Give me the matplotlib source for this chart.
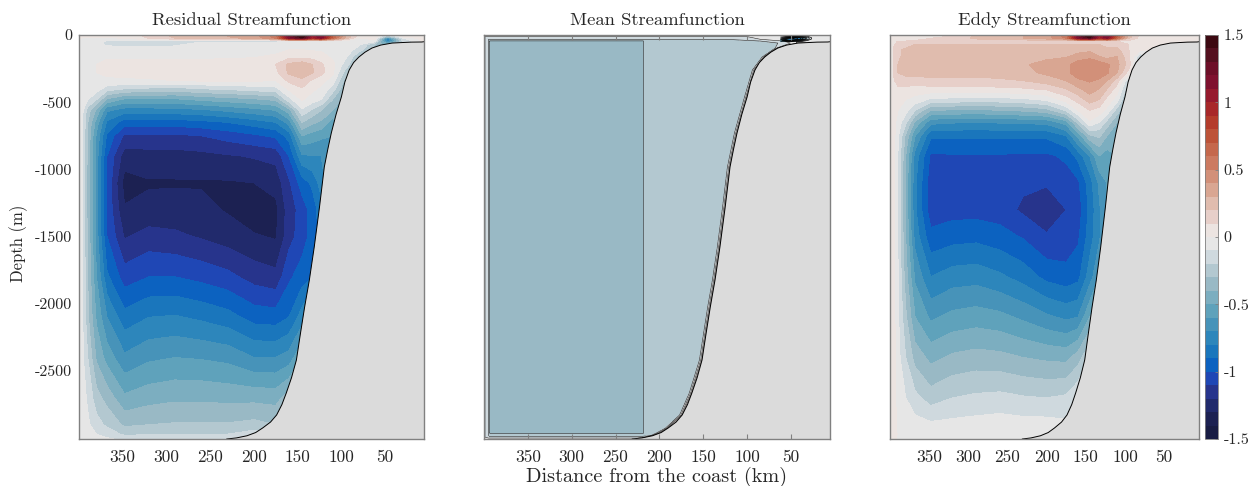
import matplotlib
matplotlib.use('Agg')
import matplotlib.pyplot as plt
import numpy as np

# Streamfunction panels, values
plt.rcParams['font.family'] = 'cmr10'
plt.rcParams['axes.unicode_minus'] = False
plt.rcParams['axes.formatter.use_mathtext'] = True
W, H = 1252, 486
AXIS_GRAY = '#808080'
LAND = '#dbdbdb'
TEXT = '#262626'

BAND_COLORS = ['#181c43', '#1c2152', '#212a6c', '#27348c', '#1f47b5', '#0c62c0', '#1a76bc', '#2d86bb',
               '#4793b9', '#5fa2bb', '#7caec0', '#99b9c5', '#b3c8d0', '#cfd9de', '#e6e6e6',
               '#ece4e1', '#e7cfc9', '#e0bcae', '#d9a692', '#d29079', '#cc7a60', '#c5684c', '#bd5338',
               '#b43c2b', '#a82829', '#961a2d', '#7f112f', '#6d0f28', '#54101f', '#3c0911']
LEVELS = np.linspace(-1.5, 1.5, 31)
X_TICKS = [350, 300, 250, 200, 150, 100, 50]
Y_TICKS = [0, -500, -1000, -1500, -2000, -2500]
CBAR_TICKS = [-1.5, -1, -0.5, 0, 0.5, 1, 1.5]
CBAR_LABELS = ['-1.5', '-1', '-0.5', '0', '0.5', '1', '1.5']

# bathymetry (distance km, depth m)
shelf_d = [5.5, 8, 20, 30, 42, 55, 65, 73, 80, 86, 91, 96, 100, 106, 111.5, 115.5, 119.5, 125, 131, 136.6, 142,
           147, 151.4, 157, 163, 168, 174, 181, 190, 198, 208, 220, 231]
shelf_z = [-50, -52, -53, -56, -60, -75, -97, -128, -164, -205, -260, -350, -461, -590, -729, -850, -982, -1280,
           -1577, -1823, -2024, -2230, -2418, -2550, -2664, -2750, -2827, -2880, -2924, -2958, -2982, -2998, -3006]

dist = [400, 396, 390, 380, 368, 348, 320, 290, 260, 230, 200, 175, 160, 145, 133, 123, 110, 95, 80, 62, 47, 30, 5.5]
depth = [0, -12, -25, -45, -70, -110, -160, -220, -280, -340, -400, -480, -560, -650, -750, -900, -1100, -1300,
         -1500, -1800, -2100, -2400, -2700, -2900, -2970, -3010]

residual = [
    [.02, .02, .02, .03, .03, .04, .12, .22, .28, .3, .35, .55, 1.1, 1.45, .9, 1.2, .7, .3, .05, .06, -.15, .05, .05],
    [.02, .02, .02, .03, .03, .04, .12, .22, .28, .3, .35, .55, 1.2, 1.5, 1.0, 1.2, .7, .3, .05, .1, -.35, .02, .05],
    [0, -.01, -.02, -.02, -.03, 0, .1, .2, .25, .28, .32, .5, 1.1, 1.3, .9, 1.1, .6, .25, -.02, .05, -.75, -.12, .05],
    [-.02, -.05, -.05, -.06, -.11, -.12, -.12, -.12, -.12, -.12, -.12, -.12, -.03, -.04, -.03, -.02, -.03, -.04, -.06, -.05, -.8, -.2, .03],
    [-.02, -.03, -.04, -.08, -.12, -.13, -.13, -.12, -.06, -.06, -.06, -.08, -.02, -.01, -.01, -.01, -.01, -.03, -.08, -.3, -.5, -.2, .03],
    [-.02, -.02, -.03, -.03, -.04, -.06, -.06, -.05, -.04, -.04, -.04, -.04, 0, 0, -.01, -.01, -.02, -.04, -.15, -.35, -.5, -.2, .03],
    [-.02, -.02, -.02, -.01, -.01, -.02, -.02, -.02, -.02, -.02, -.01, .02, .07, .06, .05, .03, -.02, -.08, -.3, -.35, -.5, -.2, .03],
    [-.02, -.02, -.01, 0, .02, .03, .03, .03, .04, .05, .06, .1, .22, .27, .2, .12, .03, -.15, -.35, -.35, -.5, -.2, .03],
    [-.02, -.02, -.01, 0, .01, .03, .03, .03, .04, .05, .06, .07, .22, .28, .21, .13, .02, -.25, -.35, -.35, -.5, -.2, .03],
    [-.02, -.02, -.02, -.02, -.01, -.02, -.01, 0, .01, .01, .01, 0, .12, .17, .08, .03, -.04, -.35, -.35, -.35, -.5, -.2, .03],
    [-.02, -.03, -.04, -.05, -.15, -.2, -.22, -.24, -.2, -.18, -.15, -.13, .02, .09, .02, -.02, -.15, -.4, -.4, -.35, -.5, -.2, .03],
    [-.02, -.05, -.1, -.2, -.42, -.52, -.52, -.52, -.48, -.45, -.42, -.38, -.14, .01, -.05, -.1, -.3, -.45, -.4, -.35, -.5, -.2, .03],
    [-.02, -.08, -.25, -.42, -.68, -.75, -.75, -.74, -.72, -.68, -.64, -.6, -.44, -.12, -.22, -.3, -.4, -.45, -.4, -.35, -.5, -.2, .03],
    [-.02, -.1, -.3, -.55, -.82, -.95, -.95, -.95, -.93, -.9, -.85, -.8, -.66, -.3, -.38, -.42, -.55, -.45, -.4, -.35, -.5, -.2, .03],
    [-.03, -.1, -.32, -.62, -.92, -1.12, -1.12, -1.12, -1.1, -1.06, -1.02, -.98, -.86, -.5, -.55, -.58, -.6, -.45, -.4, -.35, -.5, -.2, .03],
    [-.03, -.1, -.33, -.65, -1.0, -1.25, -1.24, -1.24, -1.23, -1.21, -1.19, -1.17, -1.0, -.72, -.7, -.7, -.6, -.45, -.4, -.35, -.5, -.2, .03],
    [-.03, -.1, -.34, -.65, -1.02, -1.34, -1.31, -1.31, -1.31, -1.31, -1.3, -1.26, -1.12, -.95, -.88, -.75, -.6, -.45, -.4, -.35, -.5, -.2, .03],
    [-.03, -.1, -.34, -.65, -1.02, -1.29, -1.27, -1.26, -1.27, -1.31, -1.36, -1.33, -1.15, -1.06, -.95, -.85, -.6, -.45, -.4, -.35, -.5, -.2, .03],
    [-.03, -.1, -.32, -.65, -1.0, -1.21, -1.16, -1.18, -1.21, -1.25, -1.29, -1.31, -1.14, -1.05, -.96, -.85, -.6, -.45, -.4, -.35, -.5, -.2, .03],
    [-.03, -.1, -.3, -.6, -.88, -1.05, -1.0, -1.0, -1.03, -1.07, -1.14, -1.17, -1.02, -.95, -.9, -.8, -.6, -.45, -.4, -.35, -.5, -.2, .03],
    [-.02, -.09, -.28, -.52, -.7, -.86, -.8, -.79, -.82, -.86, -.94, -.95, -.9, -.75, -.6, -.6, -.6, -.45, -.4, -.35, -.5, -.2, .03],
    [-.02, -.08, -.2, -.42, -.54, -.68, -.62, -.6, -.61, -.63, -.7, -.7, -.66, -.5, -.4, -.4, -.4, -.4, -.4, -.35, -.5, -.2, .03],
    [-.02, -.05, -.12, -.26, -.34, -.48, -.44, -.42, -.42, -.43, -.43, -.44, -.35, -.3, -.2, -.2, -.2, -.2, -.2, -.2, -.2, -.2, .03],
    [-.02, -.04, -.08, -.16, -.22, -.32, -.3, -.29, -.29, -.29, -.27, -.3, -.2, -.1, -.05, -.05, -.05, -.05, -.05, -.05, -.05, -.05, .03],
    [-.01, -.02, -.05, -.1, -.14, -.22, -.21, -.2, -.2, -.2, -.15, -.1, -.1, -.05, -.05, -.05, -.05, -.05, -.05, -.05, -.05, -.05, .03],
    [-.01, -.01, -.03, -.06, -.08, -.12, -.12, -.1, -.1, -.1, -.05, -.05, -.05, -.05, -.05, -.05, -.05, -.05, -.05, -.05, -.05, -.05, .03],
]

eddy = [
    [.02, .03, .03, .03, .03, .03, .12, .22, .28, .3, .35, .55, 1.1, 1.45, .9, 1.2, .7, .25, .05, .1, .05, .05, .05],
    [.02, .04, .04, .04, .04, .05, .12, .22, .28, .3, .35, .55, 1.2, 1.5, 1.0, 1.2, .7, .25, .06, .08, .05, .05, .05],
    [.02, .05, .06, .06, .06, .1, .14, .22, .28, .3, .35, .5, 1.1, 1.3, .9, 1.1, .6, .2, .05, .05, .05, .05, .05],
    [.03, .07, .1, .1, .11, .12, .12, .13, .13, .13, .14, .16, .15, .14, .13, .13, .1, .08, .05, .05, .05, .05, .05],
    [.03, .09, .12, .15, .2, .2, .2, .2, .2, .2, .2, .2, .2, .2, .2, .17, .14, .1, .05, .04, .05, .05, .05],
    [.04, .1, .18, .22, .23, .24, .24, .24, .24, .25, .26, .27, .27, .27, .25, .22, .23, .1, .02, 0, .05, .05, .05],
    [.04, .1, .18, .23, .24, .25, .25, .25, .25, .27, .28, .29, .33, .37, .3, .26, .3, .12, -.2, 0, .05, .05, .05],
    [.04, .1, .2, .24, .25, .26, .26, .26, .27, .29, .33, .37, .46, .48, .46, .42, .33, .15, -.3, 0, .05, .05, .05],
    [.04, .1, .2, .23, .24, .24, .24, .24, .25, .27, .32, .37, .46, .48, .46, .42, .3, .05, -.3, 0, .05, .05, .05],
    [.04, .08, .14, .16, .16, .17, .17, .17, .18, .2, .25, .3, .38, .41, .38, .3, .15, -.2, -.3, 0, .05, .05, .05],
    [.04, .07, .08, .08, .05, .07, .07, .07, .08, .09, .12, .2, .28, .35, .3, .2, .05, -.3, -.3, 0, .05, .05, .05],
    [.04, .06, .03, 0, -.03, -.12, -.13, -.15, -.14, -.12, -.08, .05, .14, .25, .2, .07, -.05, -.4, -.3, 0, .05, .05, .05],
    [.04, .05, 0, -.06, -.2, -.4, -.41, -.42, -.4, -.38, -.34, -.18, 0, .1, .06, -.03, -.25, -.45, -.3, 0, .05, .05, .05],
    [.04, .05, -.04, -.18, -.42, -.67, -.69, -.7, -.69, -.68, -.67, -.55, -.27, -.02, -.1, -.24, -.4, -.45, -.3, 0, .05, .05, .05],
    [.04, .05, -.08, -.32, -.6, -.88, -.88, -.88, -.88, -.88, -.88, -.8, -.57, -.32, -.28, -.4, -.45, -.45, -.3, 0, .05, .05, .05],
    [.04, .05, -.1, -.4, -.74, -1.02, -1.01, -1.01, -1.01, -1.02, -1.02, -.98, -.87, -.7, -.5, -.55, -.5, -.45, -.3, 0, .05, .05, .05],
    [.04, .05, -.1, -.42, -.78, -1.06, -1.05, -1.06, -1.06, -1.08, -1.09, -1.05, -1.02, -.85, -.68, -.6, -.5, -.45, -.3, 0, .05, .05, .05],
    [.04, .05, -.1, -.42, -.78, -1.06, -1.04, -1.04, -1.05, -1.12, -1.16, -1.1, -1.06, -.87, -.72, -.6, -.5, -.45, -.3, 0, .05, .05, .05],
    [.04, .05, -.1, -.4, -.74, -.97, -.94, -.93, -.96, -1.01, -1.09, -1.07, -1.02, -.85, -.72, -.6, -.5, -.45, -.3, 0, .05, .05, .05],
    [.04, .05, -.09, -.35, -.62, -.8, -.75, -.74, -.78, -.84, -.93, -.96, -.93, -.75, -.6, -.5, -.5, -.45, -.3, 0, .05, .05, .05],
    [.04, .05, -.08, -.28, -.5, -.62, -.57, -.55, -.57, -.62, -.68, -.72, -.7, -.5, -.4, -.4, -.4, -.4, -.3, 0, .05, .05, .05],
    [.04, .05, -.06, -.2, -.34, -.43, -.38, -.36, -.37, -.4, -.42, -.43, -.35, -.2, -.2, -.2, -.2, -.2, -.2, 0, .05, .05, .05],
    [.04, .05, -.04, -.1, -.17, -.25, -.2, -.18, -.17, -.19, -.2, -.18, -.1, -.1, -.1, -.1, -.1, -.1, -.1, 0, .05, .05, .05],
    [.05, .05, -.02, -.04, -.06, -.08, -.07, -.06, -.05, -.06, -.06, -.08, -.05, -.05, -.05, -.05, -.05, -.05, -.05, 0, .05, .05, .05],
    [.1, .05, -.01, -.02, -.03, -.04, -.03, -.03, -.03, -.03, -.03, -.05, -.05, -.05, -.05, -.05, -.05, -.05, -.05, 0, .05, .05, .05],
    [.1, .03, -.01, -.01, -.01, -.02, -.02, -.02, -.02, -.02, -.02, -.05, -.05, -.05, -.05, -.05, -.05, -.05, -.05, 0, .05, .05, .05],
]

# mean streamfunction: its contours hug the walls, so each row has its own x positions
mean_depth = [0, -12, -32, -45, -60, -97, -164, -260, -461, -729, -982, -1280, -1577, -1823, -2024, -2418, -2664,
              -2827, -2924, -2960, -2978, -2992, -3006]
mean_x = [
    [400, 398.9, 394.8, 394, 393, 218.5, 217, 125, 100, 85, 70, 5.5],
    [400, 398.9, 394.8, 394, 393, 218.5, 217, 125, 100, 85, 70, 5.5],
    [400, 398.9, 394.8, 394, 393, 218.5, 217, 125, 100, 85, 70, 5.5],
    [400, 398.9, 394.8, 394, 393, 218.5, 217, 100, 85, 70, 50, 5.5],
    [400, 398.9, 394.8, 394, 393, 218.5, 217, 80, 65, 52, 42, 5.5],
    [400, 398.9, 394.8, 394, 393, 218.5, 217, 70, 68, 66.5, 65, 5.5],
    [400, 398.9, 394.8, 394, 393, 218.5, 217, 85, 83, 81.5, 80, 5.5],
    [400, 398.9, 394.8, 394, 393, 218.5, 217, 96, 94, 92.5, 91, 5.5],
    [400, 398.9, 394.8, 394, 393, 218.5, 217, 105, 103, 101.5, 100, 5.5],
    [400, 398.9, 394.8, 394, 393, 218.5, 217, 116.5, 114.5, 113, 111.5, 5.5],
    [400, 398.9, 394.8, 394, 393, 218.5, 217, 124.5, 122.5, 121, 119.5, 5.5],
    [400, 398.9, 394.8, 394, 393, 218.5, 217, 130, 128, 126.5, 125, 5.5],
    [400, 398.9, 394.8, 394, 393, 218.5, 217, 136, 134, 132.5, 131, 5.5],
    [400, 398.9, 394.8, 394, 393, 218.5, 217, 141.6, 139.6, 138.1, 136.6, 5.5],
    [400, 398.9, 394.8, 394, 393, 218.5, 217, 147, 145, 143.5, 142, 5.5],
    [400, 398.9, 394.8, 394, 393, 218.5, 217, 156.4, 154.4, 152.9, 151.4, 5.5],
    [400, 398.9, 394.8, 394, 393, 218.5, 217, 168, 166, 164.5, 163, 5.5],
    [400, 398.9, 394.8, 394, 393, 218.5, 217, 179, 177, 175.5, 174, 5.5],
    [400, 398.9, 394.8, 394, 393, 218.5, 217, 195, 193, 191.5, 190, 5.5],
    [400, 398.9, 394.8, 394, 393, 218.5, 217, 205, 203, 201, 199, 5.5],
    [400, 398.9, 394.8, 394, 393, 218, 216, 212, 209, 207.5, 206, 5.5],
    [400, 398.9, 394.8, 394, 393, 220, 219, 218, 217, 216, 215, 5.5],
    [400, 398.9, 394.8, 394, 393, 237, 236, 235, 234, 233, 231, 5.5],
]
mean_psi = [
    [.02, .02, .02, .02, .02, .02, .02, .02, .02, .02, .02, .02],
    [.02, -.1, -.1, -.1, -.1, -.1, -.1, -.1, -.1, -.06, -.03, -.03],
    [.02, -.1, -.2, -.2, -.2, -.2, -.2, -.2, -.17, -.1, -.05, -.03],
    [.02, -.1, -.2, -.3, -.31, -.31, -.25, -.25, -.2, -.15, -.06, -.03],
    [.02, -.1, -.2, -.3, -.31, -.31, -.25, -.25, -.2, -.12, .02, -.03],
    [.02, -.1, -.2, -.3, -.31, -.31, -.25, -.25, -.2, -.1, .02, .02],
    [.02, -.1, -.2, -.3, -.31, -.31, -.25, -.25, -.2, -.1, .02, .02],
    [.02, -.1, -.2, -.3, -.31, -.31, -.25, -.25, -.2, -.1, .02, .02],
    [.02, -.1, -.2, -.3, -.31, -.31, -.25, -.25, -.2, -.1, .02, .02],
    [.02, -.1, -.2, -.3, -.31, -.31, -.25, -.25, -.2, -.1, .02, .02],
    [.02, -.1, -.2, -.3, -.31, -.31, -.25, -.25, -.2, -.1, .02, .02],
    [.02, -.1, -.2, -.3, -.31, -.31, -.25, -.25, -.2, -.1, .02, .02],
    [.02, -.1, -.2, -.3, -.31, -.31, -.25, -.25, -.2, -.1, .02, .02],
    [.02, -.1, -.2, -.3, -.31, -.31, -.25, -.25, -.2, -.1, .02, .02],
    [.02, -.1, -.2, -.3, -.31, -.31, -.25, -.25, -.2, -.1, .02, .02],
    [.02, -.1, -.2, -.3, -.31, -.31, -.25, -.25, -.2, -.1, .02, .02],
    [.02, -.1, -.2, -.3, -.31, -.31, -.25, -.25, -.2, -.1, .02, .02],
    [.02, -.1, -.2, -.3, -.31, -.31, -.25, -.25, -.2, -.1, .02, .02],
    [.02, -.1, -.2, -.3, -.31, -.31, -.25, -.25, -.2, -.1, .02, .02],
    [.02, -.1, -.2, -.3, -.31, -.31, -.25, -.25, -.2, -.1, .02, .02],
    [.02, -.1, -.2, -.27, -.27, -.27, -.24, -.24, -.2, -.1, .02, .02],
    [.02, -.1, -.15, -.15, -.15, -.15, -.15, -.15, -.15, -.1, .02, .02],
    [.02, -.05, -.05, -.05, -.05, -.05, -.05, -.05, -.05, -.05, -.05, -.05],
]
# tight recirculation at the shelf break
spot_d = [62, 56, 50, 44, 38, 32, 26, 20]
spot_z = [0, -10, -20, -30, -40, -50]
spot_psi = [
    [.02, .2, .5, .4, .15, .03, .02, .02],
    [-.05, 0, .1, -.2, -.3, -.12, -.03, -.03],
    [-.15, -.3, -.6, -.8, -.65, -.3, -.08, -.03],
    [-.3, -.6, -.8, -.85, -.7, -.3, -.08, -.03],
    [-.5, -.9, -.7, -.5, -.35, -.12, -.03, -.03],
    [-.5, -.4, -.2, -.1, -.05, -.02, -.01, -.03],
]


def add_axes_px(left, top, right, bottom):
    return plt.gcf().add_axes([left / W, 1 - bottom / H, (right - left) / W, (bottom - top) / H])


def style_panel(ax, title, show_ticks=False):
    ax.set_xlim(400, 5.5)
    ax.set_ylim(-3006, 0)
    ax.set_xticks(X_TICKS)
    ax.set_xticklabels([str(v) for v in X_TICKS])
    ax.set_yticks([])
    ax.set_title(title, fontsize=13.4, color=TEXT, pad=7)
    ax.tick_params(axis='x', colors=TEXT, labelsize=12.5, direction='in', pad=8,
                   length=3.5 if show_ticks else 0, width=0.8, top=show_ticks, color=AXIS_GRAY)
    for spine in ax.spines.values():
        spine.set_color(AXIS_GRAY)
        spine.set_linewidth(1.0)
        spine.set_zorder(10)


def add_land(ax):
    ax.fill(shelf_d + [5.5], shelf_z + [-3100], color=LAND, lw=0, zorder=3)
    ax.plot(shelf_d, shelf_z, color='black', lw=0.7, zorder=7)


fig = plt.figure(figsize=(W / 100, H / 100), dpi=100, facecolor='white')

ax1 = add_axes_px(79, 35, 424, 439)
cf = ax1.contourf(dist, depth, residual, levels=LEVELS, colors=BAND_COLORS)
add_land(ax1)
style_panel(ax1, 'Residual Streamfunction')
ax1.set_yticks(Y_TICKS)
ax1.set_yticklabels([str(v) for v in Y_TICKS])
ax1.tick_params(axis='y', colors=TEXT, labelsize=11.5, length=0, pad=5)
ax1.set_ylabel('Depth (m)', fontsize=12, color=TEXT)
ax1.yaxis.set_label_coords(-0.148, 0.485)

ax2 = add_axes_px(484, 35, 830, 439)
mean_z = np.tile(np.array(mean_depth, dtype=float)[:, None], (1, len(mean_x[0])))
ax2.contourf(mean_x, mean_z, mean_psi, levels=LEVELS, colors=BAND_COLORS)
ax2.contour(mean_x, mean_z, mean_psi, levels=LEVELS, colors='#222222', linewidths=0.4, zorder=2, linestyles='solid')
add_land(ax2)
ax2.contourf(spot_d, spot_z, spot_psi, levels=LEVELS, colors=BAND_COLORS, zorder=5)
ax2.contour(spot_d, spot_z, spot_psi, levels=LEVELS, colors='black', linewidths=0.5, zorder=6, linestyles='solid')
style_panel(ax2, 'Mean Streamfunction', show_ticks=True)
ax2.xaxis.set_zorder(8)
ax2.set_xlabel('Distance from the coast (km)', fontsize=14.6, color=TEXT, labelpad=1)

ax3 = add_axes_px(890, 35, 1199, 439)
ax3.contourf(dist, depth, eddy, levels=LEVELS, colors=BAND_COLORS)
add_land(ax3)
style_panel(ax3, 'Eddy Streamfunction')

cax = add_axes_px(1205, 35, 1218, 439)
cb = fig.colorbar(cf, cax=cax)
cb.set_ticks(CBAR_TICKS)
cb.set_ticklabels(CBAR_LABELS)
cb.ax.tick_params(labelsize=11.5, colors=TEXT, length=2, width=0.6, direction='in', pad=4, color=AXIS_GRAY)
cb.outline.set_edgecolor(AXIS_GRAY)
cb.outline.set_linewidth(0.6)

fig.savefig('out.png', dpi=100)
